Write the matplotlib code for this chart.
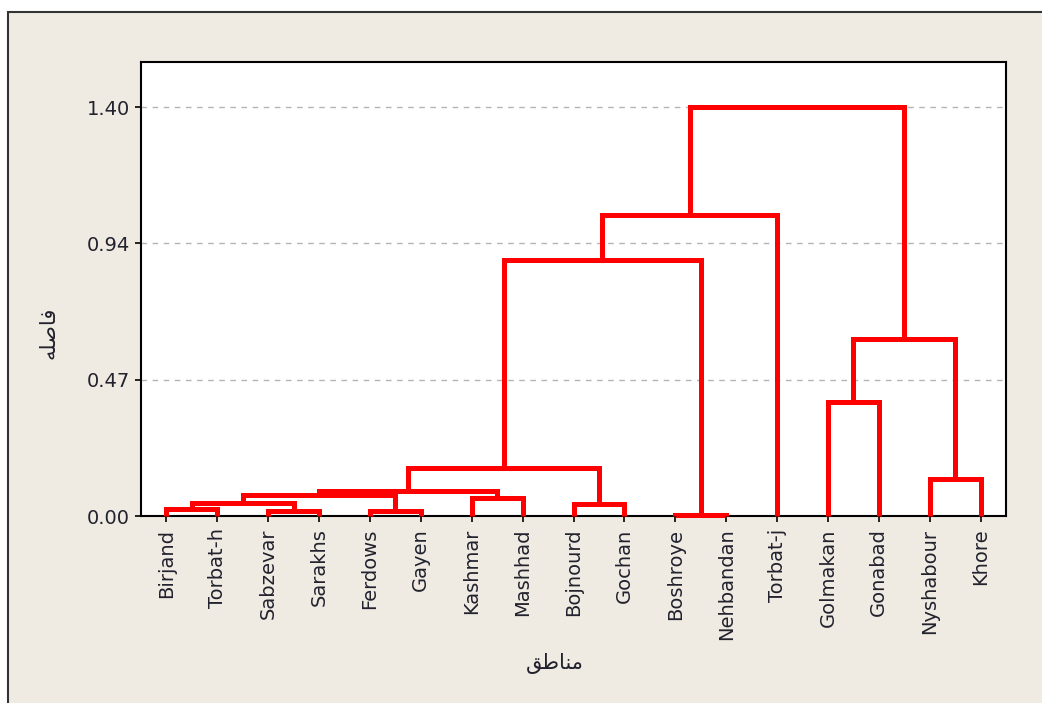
import matplotlib
matplotlib.use("Agg")
import matplotlib.pyplot as plt
from matplotlib.patches import Rectangle

# Leaf order along the horizontal axis
leaves = ["Birjand", "Torbat-h", "Sabzevar", "Sarakhs", "Ferdows", "Gayen",
          "Kashmar", "Mashhad", "Bojnourd", "Gochan", "Boshroye", "Nehbandan",
          "Torbat-j", "Golmakan", "Gonabad", "Nyshabour", "Khore"]

# Linkage steps: (left member, right member, distance).
# Members < len(leaves) are leaves; larger ids are earlier merges in order.
merge_left = [0, 2, 4, 10, 6, 8, 17, 23, 24, 25, 26, 27, 13, 15, 29, 28]
merge_right = [1, 3, 5, 11, 7, 9, 18, 19, 21, 22, 20, 12, 14, 16, 30, 31]
merge_height = [0.025, 0.017, 0.017, 0.003, 0.063, 0.042, 0.045, 0.071,
                0.087, 0.164, 0.878, 1.033, 0.391, 0.127, 0.607, 1.4025]

ytick_values = [0.0, 0.4675, 0.935, 1.4025]
ytick_labels = ["0.00", "0.47", "0.94", "1.40"]
y_top = 1.557

x_title = "\uFED6\uFEC3\uFE8E\uFEE8\uFEE3"        # مناطق
y_title = "\uFEEA\uFEE0\uFEBB\uFE8E\uFED3"        # فاصله

BEIGE = "#EFEBE2"
RED = "#FF0000"
TEXT = "#22222E"

fig = plt.figure(figsize=(10.42, 7.03), dpi=100)
fig.patch.set_facecolor("white")
W, H = 1042, 703
frame = Rectangle((8 / W, -0.05), 1.1, 1 - 12 / H + 0.05,
                  transform=fig.transFigure, facecolor=BEIGE,
                  edgecolor="#333333", linewidth=1.5, zorder=-10)
fig.patches.append(frame)

ax = fig.add_axes([141 / W, 1 - 516 / H, (1006 - 141) / W, (516 - 62) / H])
ax.set_zorder(1)
ax.set_facecolor("white")

n = len(leaves)
pos = {i: float(i) for i in range(n)}
hgt = {i: 0.0 for i in range(n)}
for k, (a, b, h) in enumerate(zip(merge_left, merge_right, merge_height)):
    xa, xb = pos[a], pos[b]
    ax.plot([xa, xa, xb, xb], [hgt[a], h, h, hgt[b]], color=RED, lw=3.6,
            solid_joinstyle="miter", solid_capstyle="butt", clip_on=False,
            zorder=3)
    pos[n + k] = (xa + xb) / 2
    hgt[n + k] = h

ax.set_xlim(-0.5, n - 0.5)
ax.set_ylim(0, y_top)

for v in ytick_values[1:]:
    ax.axhline(v, color="#B4B4B4", lw=1.0, ls=(0, (4, 4)), zorder=1)

ax.set_xticks(range(n))
ax.set_xticklabels(leaves, rotation=90, fontsize=14, family="DejaVu Sans",
                   color=TEXT)
ax.set_yticks(ytick_values)
ax.set_yticklabels(ytick_labels, fontsize=14, family="DejaVu Sans", color=TEXT)
ax.tick_params(axis="both", direction="out", length=4, width=1.2, color="black")
ax.tick_params(axis="x", pad=5)
ax.tick_params(axis="y", pad=4)

for s in ax.spines.values():
    s.set_color("black")
    s.set_linewidth(1.5)

fig.text(555 / W, 1 - 663 / H, x_title, fontsize=15, family="DejaVu Sans",
         ha="center", va="center", color=TEXT)
fig.text(48 / W, 1 - 333 / H, y_title, fontsize=15, family="DejaVu Sans",
         ha="center", va="center", rotation=90, color=TEXT)

fig.savefig("out.png", dpi=100, facecolor=fig.get_facecolor())
